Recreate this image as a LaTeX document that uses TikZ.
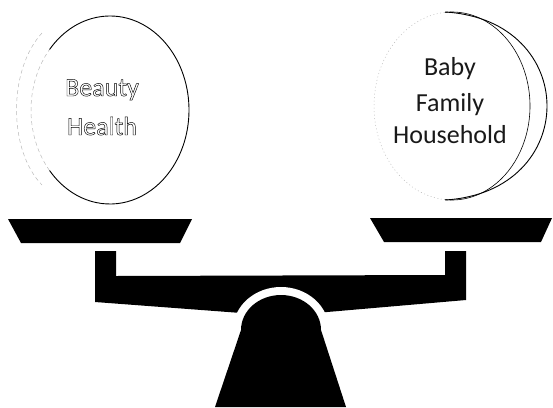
\documentclass[tikz,border=0pt]{standalone}
\usepackage{fontspec}
\setmainfont{Carlito}
\newcommand\hollowtext[1]{\special{pdf:literal direct 1 Tr 0.45 w}#1\special{pdf:literal direct 0 Tr}}
\begin{document}
\begin{tikzpicture}[x=1pt,y=-1pt,
  solidline/.style={black, line width=0.9pt},
  thinline/.style={black, line width=0.6pt},
  faintdash/.style={gray!55, line width=0.5pt, dash pattern=on 4pt off 3pt},
  faintdot/.style={gray!55, line width=0.5pt, dash pattern=on 1pt off 2.5pt},
  solidblock/.style={fill=black, draw=none},
  label/.style={font=\fontsize{26}{35}\selectfont, inner sep=0pt, anchor=base}]
\useasboundingbox (0,0) rectangle (553,407);

% left sphere
\draw[solidline] (110,110) ++(-140:79 and 94) arc[start angle=-140, end angle=140, x radius=79, y radius=94];
\draw[faintdash] (110,110) ++(140:79 and 94) arc[start angle=140, end angle=220, x radius=79, y radius=94];
\draw[faintdash] (42,33) .. controls (8,70) and (8,150) .. (42,185);

% right sphere with crescent
\draw[thinline] (452,106) ++(-95:78 and 94) arc[start angle=-95, end angle=95, x radius=78, y radius=94];
\draw[faintdot] (452,106) ++(95:78 and 94) arc[start angle=95, end angle=265, x radius=78, y radius=94];
\draw[solidline] (445,12) .. controls (581,20) and (581,192) .. (445,200);

% texts
\node[label, text=black] (beauty) at (102,96) {\hollowtext{Beauty}};
\node[label, text=black] (health) at (102,135) {\hollowtext{Health}};
\node[label, text=black!90] (baby) at (450,75) {Baby};
\node[label, text=black!90] (family) at (450,111) {Family};
\node[label, text=black!90] (household) at (450,143) {Household};

% pans
\fill[solidblock] (8,219) -- (192,219) -- (180,243) -- (21,243) -- cycle;
\fill[solidblock] (370,218) -- (552,218) -- (541,242) -- (384,242) -- cycle;

% beam
\fill[solidblock] (95,251) -- (116,251) -- (116,276) -- (445,275) -- (445,251)
  -- (466,251) -- (466,300) -- (281,316) -- (95,302) -- cycle;

% fulcrum with white gap
\path[draw=white, line width=16pt, line join=round] (215,407) -- (241,330)
  arc[start angle=180, end angle=360, x radius=40, y radius=35] -- (346,407);
\fill[solidblock] (215,407) -- (241,330)
  arc[start angle=180, end angle=360, x radius=40, y radius=35] -- (346,407) -- cycle;
\end{tikzpicture}
\end{document}
